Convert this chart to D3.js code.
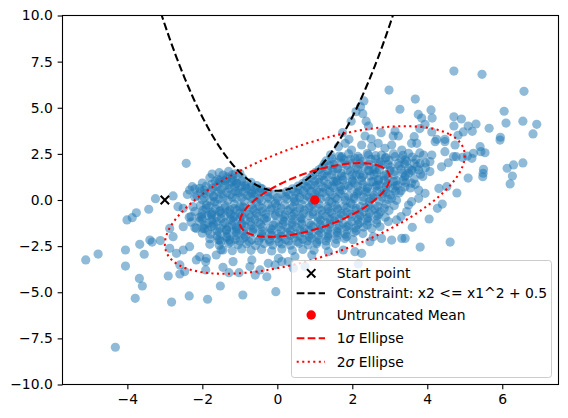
<!DOCTYPE html>
<html lang="en">
<head>
<meta charset="utf-8">
<title>Truncated normal samples</title>
<script src="https://d3js.org/d3.v7.min.js"></script>
<style>
  body { margin: 0; background: #fff; }
  text { font-family: "DejaVu Sans", sans-serif; font-size: 13.9px; fill: #000; }
</style>
</head>
<body>
<script>
// axis limits and ticks
var xLimits = [-5.73, 7.50];
var yLimits = [-10, 10];
var xTicks = [-4, -2, 0, 2, 4, 6];
var yTicks = [-10, -7.5, -5, -2.5, 0, 2.5, 5, 7.5, 10];

var startPoint = [-3, 0];
var meanPoint = [1, 0];
var covariance = [[4, 2.4], [2.4, 4]];
var constraintCoef = [1, 0.5];      // x2 <= a*x1^2 + c
var constraintRange = [-3.2, 3.2];
var ellipseSigmas = [1, 2];

// samples (x1, x2)
var samples = [
  [2.98,5.96],[3.27,4.92],[2.31,5.37],[2.22,5.06],[2.10,4.79],[2.28,4.68],[1.97,4.27],[2.37,4.27],[2.43,4.01],[1.74,3.65],[2.34,3.47],[2.77,3.65],[2.50,3.32],[3.14,3.74],[3.09,3.47],[3.23,3.47],[1.91,3.29],
  [4.71,6.99],[5.46,6.81],[6.58,5.89],[3.68,5.47],[4.10,4.88],[3.76,4.64],[4.13,4.44],[3.85,4.44],[4.71,4.51],[4.91,4.39],[6.05,4.81],[6.10,4.17],[6.55,4.27],[6.92,4.10],[6.82,3.58],[5.65,3.89],[5.30,4.12],[5.09,4.01],[4.71,4.01],[4.96,3.69],[5.20,3.72],[4.82,3.51],[5.95,3.40],[3.80,3.87],[3.94,4.10],[4.12,3.69],[3.65,3.43],[4.25,3.29],[4.47,3.29],
  [5.94,3.25],[5.41,2.89],[5.54,2.56],[5.43,2.62],[5.19,2.26],[5.23,2.53],[6.13,1.72],[6.30,1.90],[6.55,2.01],[6.27,1.30],[6.21,0.87],[5.50,1.66],[5.49,1.45],[5.48,1.26],[5.09,1.19],[4.79,0.38],[4.52,0.72],[4.31,0.63],[4.40,-0.22],[4.27,-0.45],[4.05,-1.03],[3.60,-1.48],[3.41,-2.08],[3.81,-2.55],[4.61,-2.28],
  [5.07,2.38],[4.94,2.31],[4.77,2.35],[4.70,2.35],[4.56,2.02],[4.38,1.80],[4.47,2.62],[4.21,3.16],[4.47,3.16],[4.74,2.98],[3.90,2.44],[4.12,2.44],[4.07,2.08],[3.81,1.99],[4.07,1.54],[3.77,1.63],[3.50,1.45],[3.58,0.91],[3.77,0.54],[3.94,0.36],[3.58,-0.09],[3.50,-0.27],[3.77,0.09],[3.58,3.07],[3.50,2.53],[3.72,3.07],[3.45,-0.63],
  [-2.43,1.99],[-1.74,1.41],[-1.54,1.05],[-1.36,1.14],[-1.20,1.36],[-1.09,0.91],[-1.00,1.45],[-2.27,0.72],[-2.34,0.54],[-2.07,0.63],[-2.78,0.22],[-3.25,0.07],[-3.43,-0.50],[-3.76,-0.69],[-3.87,-0.96],[-4.01,-1.08],
  [-2.65,-0.36],[-2.51,-0.45],[-2.35,-0.94],[-2.25,-0.36],[-2.02,-0.90],[-1.89,-0.27],[-1.67,-0.09],[-1.54,-0.63],[-1.76,-0.81],[-1.71,-1.26],[-1.94,-1.54],[-2.16,-1.54],[-2.51,-1.45],[-2.87,-1.54],[-2.78,-1.99],[-2.87,-2.62],[-2.69,-2.89],[-2.51,-2.71],[-2.34,-2.53],[-2.07,-3.07],[-1.89,-3.16],[-1.63,-2.98],[-1.45,-2.71],[-1.54,-2.17],[-1.27,-2.17],[-1.36,-1.63],[-1.09,-1.45],[-1.14,-0.90],[-1.27,-0.54],[-1.00,-0.36],
  [-3.12,-2.20],[-3.40,-2.17],[-3.34,-2.28],[-3.67,-2.40],[-4.05,-2.71],[-3.55,-2.94],[-4.78,-2.93],[-5.11,-3.25],
  [-4.05,-3.58],[-3.68,-4.25],[-3.60,-4.66],[-3.79,-5.33],[-4.32,-7.98],[-2.91,-4.12],[-2.60,-3.52],[-2.60,-4.01],[-2.47,-3.88],[-2.82,-5.53],[-2.35,-5.20],[-1.86,-5.38],[-1.52,-4.66],[-0.92,-5.15],[-2.16,-3.25],[-1.91,-3.79],[-1.91,-3.34],[-1.45,-3.65],[-1.29,-3.94],[-1.18,-3.34],[-1.02,-3.94],
  [-0.04,-4.97],[-0.28,-4.16],[-0.59,-4.07],[-0.46,-3.79],[-0.73,-3.61],[-0.24,-3.43],[-0.06,-3.52],[0.12,-3.34],[0.29,-3.34],[0.43,-3.70],[0.74,-3.61],[2.16,-3.47],
  [2.47,-2.26],[2.56,-1.99],[2.78,-2.08],[3.05,-2.17],[3.32,-2.08],[3.18,-1.08],[2.96,-1.17],[2.74,-1.45],[3.30,-0.90],[1.76,-2.71],[2.07,-2.80],[2.25,-2.89],[1.36,-2.80],[0.92,-2.98],[0.47,-3.07],[0.03,-3.16],[-0.68,-3.25],
  [1.63,2.89],[1.81,3.07],[1.98,2.71],[2.25,2.98],[2.52,2.89],[2.69,3.07],[2.87,2.80],[3.05,2.98],[3.32,2.71],[1.72,2.35],[2.07,2.26],[2.43,2.44],[2.78,2.44],[3.14,2.35],[3.41,2.17],
  [-0.68,0.36],[-0.45,0.65],[-0.86,0.72],
  // dense core
  [1.42,2.45],[1.65,2.38],[1.9,2.5],[2.15,2.36],[2.4,2.52],[2.62,2.4],[2.9,2.3],[3.1,2.5],[3.35,2.42],[3.6,2.33],[3.8,2.55],
  [1.3,2.12],[1.52,2.05],[1.78,2.18],[2.0,2.0],[2.28,2.1],[2.5,2.2],[2.75,2.05],[2.98,2.15],[3.22,1.98],[3.45,2.1],[3.7,2.2],[3.95,2.0],
  [1.2,1.78],[1.4,1.85],[1.62,1.72],[1.85,1.88],[2.1,1.75],[2.32,1.82],[2.55,1.7],[2.8,1.9],[3.02,1.78],[3.25,1.85],[3.5,1.72],[3.72,1.82],[3.95,1.75],
  [1.02,1.5],[1.25,1.42],[1.48,1.58],[1.7,1.45],[1.95,1.55],[2.2,1.4],[2.42,1.6],[2.65,1.48],[2.9,1.38],[3.12,1.55],[3.35,1.45],[3.6,1.58],[3.82,1.4],[-1.55,1.48],[-1.3,1.55],[-1.12,1.42],
  [0.88,1.2],[1.1,1.12],[1.32,1.28],[1.55,1.15],[1.78,1.25],[2.0,1.1],[2.25,1.22],[2.48,1.3],[2.7,1.12],[2.95,1.2],[3.18,1.05],[3.4,1.25],[3.65,1.15],[3.88,1.28],[-1.8,1.2],[-1.58,1.12],[-1.35,1.25],[-1.15,1.05],[-0.92,1.18],
  [0.68,0.9],[0.9,0.82],[1.12,0.95],[1.35,0.85],[1.58,0.98],[1.8,0.8],[2.05,0.92],[2.28,0.85],[2.5,0.98],[2.72,0.82],[2.95,0.9],[3.2,0.8],[3.42,0.95],[3.68,0.85],[-2.0,0.92],[-1.75,0.85],[-1.52,0.95],[-1.3,0.82],[-1.08,0.9],[-0.85,0.8],[-0.7,0.95],
  [0.4,0.6],[0.6,0.55],[0.82,0.65],[1.05,0.52],[1.28,0.62],[1.5,0.68],[1.72,0.55],[1.95,0.65],[2.18,0.5],[2.4,0.62],[2.62,0.7],[2.85,0.55],[3.08,0.62],[3.3,0.5],[3.55,0.65],[-2.2,0.6],[-1.95,0.52],[-1.72,0.65],[-1.5,0.55],[-1.28,0.62],[-1.05,0.5],[-0.82,0.62],[-0.6,0.55],[-0.4,0.6],
  [-2.4,0.3],[-2.15,0.25],[-1.92,0.35],[-1.7,0.22],[-1.48,0.32],[-1.25,0.28],[-1.02,0.38],[-0.8,0.25],[-0.58,0.32],[-0.35,0.4],[-0.12,0.3],[0.1,0.35],[0.32,0.28],[0.55,0.38],[0.78,0.25],[1.0,0.32],[1.22,0.4],[1.45,0.28],[1.68,0.35],[1.9,0.22],[2.12,0.32],[2.35,0.4],[2.58,0.25],[2.8,0.35],[3.02,0.28],[3.25,0.38],
  [-2.0,0.02],[-1.78,-0.05],[-1.55,0.05],[-1.32,-0.02],[-1.1,0.08],[-0.88,-0.06],[-0.65,0.04],[-0.42,-0.03],[-0.2,0.06],[0.02,-0.04],[0.25,0.05],[0.48,-0.06],[0.7,0.03],[0.92,-0.02],[1.15,0.06],[1.38,-0.05],[1.6,0.04],[1.82,-0.03],[2.05,0.07],[2.28,-0.04],[2.5,0.05],[2.72,-0.06],[2.95,0.03],[3.18,-0.02],
  [-2.05,-0.3],[-1.82,-0.35],[-1.6,-0.25],[-1.38,-0.32],[-1.15,-0.22],[-0.92,-0.36],[-0.7,-0.28],[-0.48,-0.34],[-0.25,-0.24],[-0.02,-0.33],[0.2,-0.27],[0.42,-0.36],[0.65,-0.25],[0.88,-0.32],[1.1,-0.22],[1.32,-0.35],[1.55,-0.28],[1.78,-0.33],[2.0,-0.24],[2.22,-0.36],[2.45,-0.27],[2.68,-0.34],[2.9,-0.23],[3.12,-0.3],
  [-2.2,-0.62],[-1.98,-0.56],[-1.75,-0.66],[-1.52,-0.58],[-1.3,-0.64],[-1.08,-0.55],[-0.85,-0.65],[-0.62,-0.57],[-0.4,-0.63],[-0.18,-0.54],[0.05,-0.66],[0.28,-0.58],[0.5,-0.63],[0.72,-0.55],[0.95,-0.65],[1.18,-0.57],[1.4,-0.62],[1.62,-0.54],[1.85,-0.66],[2.08,-0.58],[2.3,-0.63],[2.52,-0.55],[2.75,-0.64],[2.98,-0.57],
  [-2.3,-0.9],[-2.08,-0.95],[-1.85,-0.85],[-1.62,-0.93],[-1.4,-0.87],[-1.18,-0.96],[-0.95,-0.86],[-0.72,-0.94],[-0.5,-0.88],[-0.28,-0.95],[-0.05,-0.85],[0.18,-0.92],[0.4,-0.87],[0.62,-0.96],[0.85,-0.86],[1.08,-0.93],[1.3,-0.88],[1.52,-0.95],[1.75,-0.85],[1.98,-0.92],[2.2,-0.87],[2.42,-0.96],[2.65,-0.86],[2.88,-0.93],
  [-2.3,-1.2],[-2.08,-1.15],[-1.85,-1.25],[-1.62,-1.17],[-1.4,-1.23],[-1.18,-1.14],[-0.95,-1.26],[-0.72,-1.18],[-0.5,-1.22],[-0.28,-1.13],[-0.05,-1.25],[0.18,-1.17],[0.4,-1.23],[0.62,-1.15],[0.85,-1.26],[1.08,-1.18],[1.3,-1.22],[1.52,-1.14],[1.75,-1.25],[1.98,-1.17],[2.2,-1.23],[2.42,-1.15],[2.65,-1.26],
  [-2.2,-1.5],[-1.98,-1.55],[-1.75,-1.45],[-1.52,-1.53],[-1.3,-1.47],[-1.08,-1.56],[-0.85,-1.46],[-0.62,-1.54],[-0.4,-1.48],[-0.18,-1.55],[0.05,-1.45],[0.28,-1.52],[0.5,-1.47],[0.72,-1.56],[0.95,-1.46],[1.18,-1.53],[1.4,-1.48],[1.62,-1.55],[1.85,-1.45],[2.08,-1.52],[2.3,-1.47],[2.52,-1.55],
  [-2.0,-1.8],[-1.78,-1.85],[-1.55,-1.75],[-1.32,-1.83],[-1.1,-1.77],[-0.88,-1.86],[-0.65,-1.76],[-0.42,-1.84],[-0.2,-1.78],[0.02,-1.85],[0.25,-1.75],[0.48,-1.83],[0.7,-1.77],[0.92,-1.86],[1.15,-1.76],[1.38,-1.84],[1.6,-1.78],[1.82,-1.85],[2.05,-1.75],[2.28,-1.82],
  [-1.8,-2.1],[-1.58,-2.15],[-1.35,-2.05],[-1.12,-2.13],[-0.9,-2.07],[-0.68,-2.16],[-0.45,-2.06],[-0.22,-2.14],[0.0,-2.08],[0.22,-2.15],[0.45,-2.05],[0.68,-2.13],[0.9,-2.07],[1.12,-2.16],[1.35,-2.06],[1.58,-2.14],[1.8,-2.08],[2.02,-2.15],
  [-1.8,-2.4],[-1.55,-2.45],[-1.3,-2.35],[-1.05,-2.43],[-0.82,-2.37],[-0.58,-2.46],[-0.35,-2.36],[-0.12,-2.44],[0.12,-2.38],[0.35,-2.45],[0.58,-2.35],[0.82,-2.43],[1.05,-2.37],[1.3,-2.46],[1.55,-2.36],
  [-1.5,-2.7],[-1.2,-2.75],[-0.95,-2.65],[-0.7,-2.73],[-0.42,-2.68],[-0.15,-2.76],[0.12,-2.66],[0.4,-2.74],[0.68,-2.68],[0.98,-2.72],
  [-0.55,-0.12],[-0.05,-0.18],[0.45,-0.1],[0.95,-0.2],[1.45,-0.13],[1.95,-0.17],[2.45,-0.1],
  [-0.3,-0.75],[0.2,-0.8],[0.7,-0.72],[1.2,-0.78],[1.7,-0.74],[2.2,-0.8],
  [-0.6,-1.05],[-0.1,-1.38],[0.4,-1.05],[0.9,-1.38],[1.4,-1.05],[1.9,-1.38],
  [0.9,0.45],[1.4,0.45],[1.9,0.75],[2.4,0.45],[2.7,1.05],[1.6,1.05],[2.1,1.35],[2.6,1.65],[1.3,0.15],[1.8,0.15],[2.3,0.15],[0.6,0.15],
  [0.1,-0.45],[0.6,-0.45],[1.1,-0.45],[1.6,-0.45],[-0.4,-0.45],[-0.9,-1.65],[-0.4,-1.95],[0.1,-1.65],[0.6,-1.95],[1.1,-1.65],[-0.2,-2.25],
  // second layer of the core
  [1.12,1.65],[1.35,1.6],[1.6,1.68],[1.88,1.62],[2.15,1.66],[2.45,1.58],[2.72,1.64],[3.0,1.6],[3.3,1.67],[3.58,1.62],
  [0.95,1.35],[1.2,1.32],[1.45,1.38],[1.72,1.3],[2.0,1.36],[2.3,1.33],[2.58,1.38],[2.85,1.3],[3.12,1.36],[3.42,1.32],[-1.45,1.35],[-1.2,1.2],
  [0.78,1.05],[1.0,1.0],[1.25,1.06],[1.5,1.0],[1.75,1.08],[2.0,1.02],[2.25,1.05],[2.55,1.0],[2.85,1.06],[3.1,1.0],[3.35,1.05],[-1.65,1.02],[-1.4,1.05],[-1.2,0.98],[-0.95,1.02],
  [0.55,0.75],[0.78,0.72],[1.0,0.78],[1.22,0.7],[1.45,0.76],[1.68,0.72],[2.15,0.76],[2.4,0.7],[2.65,0.78],[2.9,0.72],[3.15,0.76],[3.4,0.7],[-1.9,0.75],[-1.62,0.72],[-1.4,0.78],[-1.15,0.7],[-0.95,0.76],[-0.7,0.72],[-0.55,0.78],
  [-2.05,0.45],[-1.8,0.42],[-1.58,0.48],[-1.35,0.4],[-1.12,0.46],[-0.9,0.42],[-0.68,0.48],[-0.48,0.42],[-0.25,0.45],[0.25,0.45],[0.48,0.42],[0.7,0.48],[1.12,0.42],[1.65,0.48],[2.15,0.42],[2.65,0.45],[2.9,0.42],[3.15,0.48],
  [-2.2,0.15],[-1.95,0.12],[-1.7,0.18],[-1.45,0.1],[-1.2,0.16],[-0.95,0.12],[-0.72,0.18],[-0.48,0.1],[-0.25,0.16],[0.0,0.12],[0.22,0.18],[0.45,0.1],[0.85,0.16],[1.05,0.1],[1.55,0.12],[2.05,0.18],[2.55,0.12],[2.8,0.16],[3.05,0.1],
  [-1.9,-0.45],[-1.65,-0.48],[-1.4,-0.42],[-1.15,-0.46],[-0.9,-0.42],[-0.65,-0.48],[-0.15,-0.42],[0.35,-0.48],[0.85,-0.42],[1.35,-0.48],[1.85,-0.42],[2.1,-0.46],[2.35,-0.42],[2.6,-0.48],[2.85,-0.45],
  [-2.0,-0.75],[-1.75,-0.78],[-1.5,-0.72],[-1.25,-0.76],[-1.0,-0.72],[-0.75,-0.78],[-0.55,-0.72],[-0.05,-0.78],[0.45,-0.76],[0.95,-0.78],[1.45,-0.72],[1.95,-0.76],[2.45,-0.72],[2.7,-0.78],
  [-2.0,-1.05],[-1.75,-1.08],[-1.5,-1.02],[-1.25,-1.06],[-1.0,-1.02],[-0.85,-1.08],[-0.35,-1.02],[0.15,-1.08],[0.65,-1.02],[1.15,-1.08],[1.65,-1.02],[2.15,-1.06],[2.4,-1.02],[2.65,-1.08],
  [-1.95,-1.35],[-1.7,-1.38],[-1.45,-1.32],[-1.2,-1.36],[-0.95,-1.32],[-0.7,-1.38],[-0.45,-1.32],[0.15,-1.32],[0.4,-1.36],[0.65,-1.32],[1.15,-1.35],[1.4,-1.32],[1.65,-1.38],[2.15,-1.32],[2.4,-1.36],
  [-1.85,-1.65],[-1.6,-1.68],[-1.35,-1.62],[-1.1,-1.66],[-0.65,-1.62],[-0.4,-1.68],[-0.15,-1.62],[0.35,-1.68],[0.6,-1.62],[0.85,-1.66],[1.35,-1.62],[1.6,-1.68],[1.85,-1.62],[2.1,-1.66],
  [-1.6,-1.95],[-1.35,-1.98],[-1.1,-1.92],[-0.85,-1.96],[-0.15,-1.92],[0.1,-1.96],[0.35,-1.92],[0.85,-1.98],[1.1,-1.92],[1.35,-1.96],[1.6,-1.92],[1.85,-1.98],
  [-1.5,-2.25],[-1.25,-2.28],[-1.0,-2.22],[-0.75,-2.26],[-0.5,-2.22],[0.05,-2.28],[0.3,-2.22],[0.55,-2.26],[0.8,-2.22],[1.05,-2.28],[1.3,-2.22],
  [1.45,2.25],[1.7,2.28],[1.95,2.22],[2.2,2.26],[2.62,2.22],[2.88,2.28],[3.3,2.26],[1.25,1.95],[1.5,1.92],[1.75,1.98],[2.2,1.95],[2.45,1.92],[2.7,1.98],[2.95,1.92],[3.4,1.95],[3.65,1.98]
];

var legendLabels = ["Start point", "Constraint: x2 <= x1^2 + 0.5", "Untruncated Mean", "1\u03c3 Ellipse", "2\u03c3 Ellipse"];

(function() {
  var w = 568, h = 418;
  var plotL = 62.5, plotR = 558.5, plotT = 15.5, plotB = 384.5;

  var x = d3.scaleLinear().domain(xLimits).range([plotL, plotR]);
  var y = d3.scaleLinear().domain(yLimits).range([plotB, plotT]);

  var svg = d3.select("body").append("svg")
    .attr("width", w)
    .attr("height", h);

  svg.append("defs").append("clipPath").attr("id", "plotclip")
    .append("rect")
    .attr("x", plotL).attr("y", plotT)
    .attr("width", plotR - plotL).attr("height", plotB - plotT);

  var plot = svg.append("g").attr("clip-path", "url(#plotclip)");

  // scatter of samples
  plot.selectAll("circle.sample")
    .data(samples)
    .enter()
    .append("circle")
    .attr("class", "sample")
    .attr("cx", function(d) { return x(d[0]); })
    .attr("cy", function(d) { return y(d[1]); })
    .attr("r", 4.6)
    .attr("fill", "#1f77b4")
    .attr("fill-opacity", 0.5);

  // constraint parabola
  var parab = d3.range(constraintRange[0], constraintRange[1] + 0.001, 0.02).map(function(v) {
    return [v, constraintCoef[0] * v * v + constraintCoef[1]];
  });
  var line = d3.line()
    .x(function(d) { return x(d[0]); })
    .y(function(d) { return y(d[1]); });

  plot.append("path")
    .attr("d", line(parab))
    .attr("fill", "none")
    .attr("stroke", "black")
    .attr("stroke-width", 2.08)
    .attr("stroke-dasharray", "7.7,3.3");

  // covariance ellipses
  var a = covariance[0][0], b = covariance[0][1], c = covariance[1][1];
  var half = Math.sqrt(((a - c) / 2) * ((a - c) / 2) + b * b);
  var l1 = (a + c) / 2 + half, l2 = (a + c) / 2 - half;
  var theta = 0.5 * Math.atan2(2 * b, a - c);
  var v1 = [Math.cos(theta), Math.sin(theta)], v2 = [-Math.sin(theta), Math.cos(theta)];

  function ellipsePts(n) {
    return d3.range(0, 361, 2).map(function(deg) {
      var t = deg * Math.PI / 180;
      var p = n * Math.sqrt(l1) * Math.cos(t), q = n * Math.sqrt(l2) * Math.sin(t);
      return [meanPoint[0] + p * v1[0] + q * v2[0], meanPoint[1] + p * v1[1] + q * v2[1]];
    });
  }

  plot.append("path")
    .attr("d", line(ellipsePts(ellipseSigmas[0])))
    .attr("fill", "none")
    .attr("stroke", "red")
    .attr("stroke-width", 2.08)
    .attr("stroke-dasharray", "7.7,3.3");

  plot.append("path")
    .attr("d", line(ellipsePts(ellipseSigmas[1])))
    .attr("fill", "none")
    .attr("stroke", "red")
    .attr("stroke-width", 2.08)
    .attr("stroke-dasharray", "2.08,3.44");

  // mean and start point
  plot.append("circle")
    .attr("cx", x(meanPoint[0])).attr("cy", y(meanPoint[1]))
    .attr("r", 4.7).attr("fill", "red");

  function xMark(g, cx, cy) {
    var s = 4.2;
    g.append("path")
      .attr("d", "M" + (cx - s) + "," + (cy - s) + "L" + (cx + s) + "," + (cy + s) +
                 "M" + (cx - s) + "," + (cy + s) + "L" + (cx + s) + "," + (cy - s))
      .attr("stroke", "black")
      .attr("stroke-width", 2);
  }
  xMark(plot, x(startPoint[0]), y(startPoint[1]));

  // axes
  var xAxis = svg.append("g")
    .attr("transform", "translate(0," + plotB + ")")
    .call(d3.axisBottom(x).tickValues(xTicks).tickSize(4.86).tickPadding(4.86).tickFormat(d3.format("d")));
  var yAxis = svg.append("g")
    .attr("transform", "translate(" + plotL + ",0)")
    .call(d3.axisLeft(y).tickValues(yTicks).tickSize(4.86).tickPadding(4.86).tickFormat(d3.format(".1f")));

  [xAxis, yAxis].forEach(function(g) {
    g.select(".domain").remove();
    g.attr("font-family", null).attr("font-size", null);
    g.selectAll("line").attr("stroke", "black").attr("stroke-width", 1.1);
    g.selectAll("text").attr("fill", "black");
  });

  // frame
  svg.append("rect")
    .attr("x", plotL).attr("y", plotT)
    .attr("width", plotR - plotL).attr("height", plotB - plotT)
    .attr("fill", "none")
    .attr("stroke", "black")
    .attr("stroke-width", 1.1);

  // legend
  var lg = svg.append("g");
  lg.append("rect")
    .attr("x", 291.5).attr("y", 260.5)
    .attr("width", 260).attr("height", 117)
    .attr("rx", 2.8)
    .attr("fill", "white").attr("fill-opacity", 0.8)
    .attr("stroke", "#cccccc").attr("stroke-width", 1);

  var rowY = [273.3, 293.3, 315, 338.3, 361.7];
  var hx0 = 296.7, hx1 = 325, hxm = 311.2, tx = 336.7;

  xMark(lg, hxm, rowY[0]);
  lg.append("line").attr("x1", hx0).attr("x2", hx1).attr("y1", rowY[1]).attr("y2", rowY[1])
    .attr("stroke", "black").attr("stroke-width", 2.08).attr("stroke-dasharray", "7.7,3.3");
  lg.append("circle").attr("cx", hxm).attr("cy", rowY[2]).attr("r", 4.7).attr("fill", "red");
  lg.append("line").attr("x1", hx0).attr("x2", hx1).attr("y1", rowY[3]).attr("y2", rowY[3])
    .attr("stroke", "red").attr("stroke-width", 2.08).attr("stroke-dasharray", "7.7,3.3");
  lg.append("line").attr("x1", hx0).attr("x2", hx1).attr("y1", rowY[4]).attr("y2", rowY[4])
    .attr("stroke", "red").attr("stroke-width", 2.08).attr("stroke-dasharray", "2.08,3.44");

  legendLabels.forEach(function(lab, i) {
    var t = lg.append("text").attr("x", tx).attr("y", rowY[i]).attr("dy", "0.36em");
    var k = lab.indexOf("\u03c3");
    if (k < 0) {
      t.text(lab);
    } else {
      t.append("tspan").text(lab.slice(0, k));
      t.append("tspan").attr("font-style", "italic").text("\u03c3");
      t.append("tspan").text(lab.slice(k + 1));
    }
  });
})();
</script>
</body>
</html>
